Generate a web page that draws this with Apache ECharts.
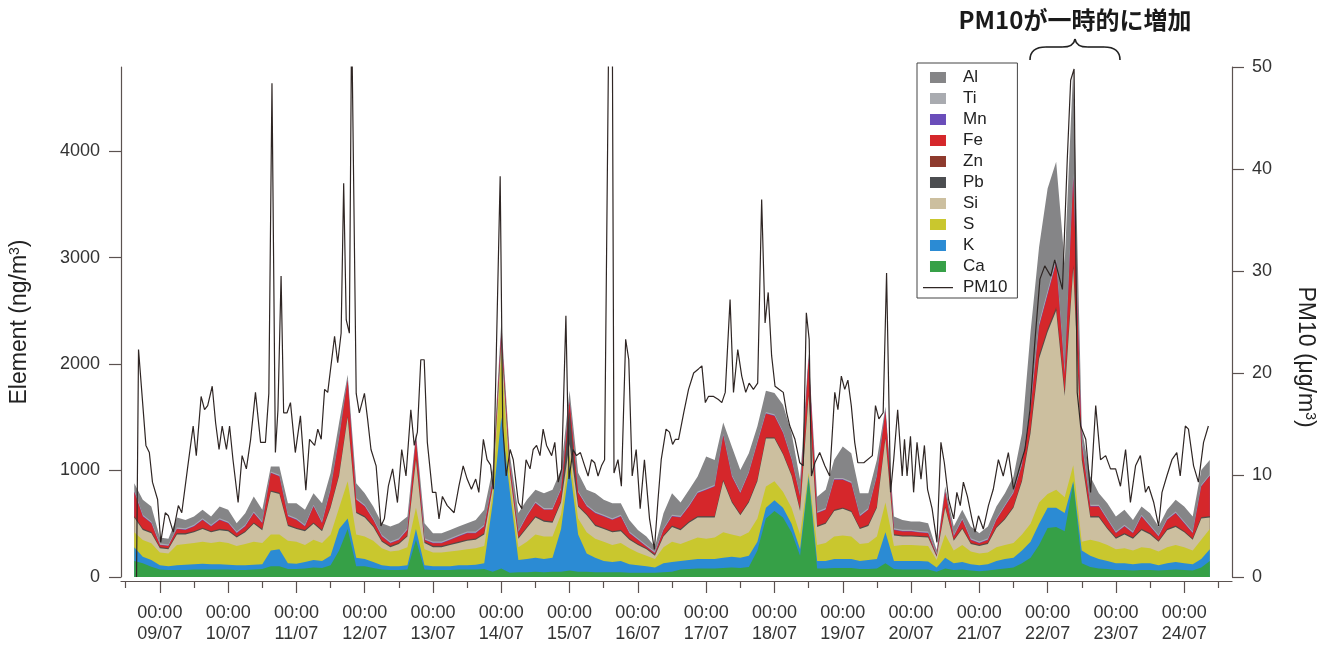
<!DOCTYPE html>
<html><head><meta charset="utf-8">
<script src="https://cdn.jsdelivr.net/npm/echarts@6/dist/echarts.min.js"></script>
<style>html,body{margin:0;padding:0;background:#fff}#c{width:1334px;height:646px}</style>
</head><body><div id="c"></div>
<script>
// x values: hours after 09/07 00:00
// 3-hourly samples from 08/07 15:00 to 24/07 09:00
const sampleHours = Array.from({length: 127}, (_, i) => -9 + 3 * i);

const dayHours = [0,24,48,72,96,120,144,168,192,216,240,264,288,312,336,360];
const halfDayHours = [-12,12,36,60,84,108,132,156,180,204,228,252,276,300,324,348,372];
const dayLabels = ['09/07','10/07','11/07','12/07','13/07','14/07','15/07','16/07','17/07','18/07','19/07','20/07','21/07','22/07','23/07','24/07'];
const leftTicks = [0,1000,2000,3000,4000];
const rightTicks = [0,10,20,30,40,50];

// element concentrations (ng/m3), bottom of stack first
const ca = [150,129,97,70,65,65,65,70,70,70,70,70,65,65,70,75,100,100,75,75,
 80,90,85,110,250,450,100,100,85,70,65,65,70,350,70,65,65,65,70,70,70,75,
 50,80,40,45,45,50,45,50,50,60,50,50,45,45,45,45,40,40,40,40,45,50,
 70,75,80,80,80,85,90,85,95,250,550,620,560,420,200,920,80,80,85,85,85,75,
 75,80,130,75,70,70,70,70,50,80,65,70,60,55,60,70,80,90,130,180,300,460,470,430,880,130,95,80,75,65,65,60,65,65,60,65,70,65,60,90,150];
const k = [130,62,63,40,35,45,50,50,55,50,50,45,45,45,45,45,150,160,55,50,
 60,70,65,90,200,100,80,70,55,40,35,35,40,100,40,35,35,35,40,40,45,55,
 650,1420,760,115,125,130,125,130,400,990,350,170,135,105,95,105,80,70,60,50,85,90,
 80,85,90,90,90,95,100,95,105,80,100,100,90,80,60,30,70,70,85,85,85,75,
 85,90,290,75,80,80,80,75,40,100,65,70,60,55,60,80,90,90,120,150,200,190,180,170,20,120,105,90,75,65,65,60,65,65,50,65,70,65,60,80,110];
const s = [140,157,157,120,120,190,195,200,205,200,210,205,180,200,215,200,150,140,210,205,
 160,190,170,200,200,350,220,210,200,160,140,150,170,200,150,130,130,140,140,150,155,160,
 80,600,100,120,160,220,210,200,140,100,150,200,180,180,160,170,150,120,100,80,150,190,
 160,180,200,190,200,240,210,200,220,220,200,180,150,150,140,30,150,170,210,220,210,160,
 160,210,280,140,150,150,145,145,70,220,120,160,120,110,110,130,130,140,150,170,200,130,170,150,150,80,150,160,150,130,140,130,150,140,130,150,160,150,130,180,190];
const si = [140,94,94,40,40,100,90,100,120,100,110,110,80,110,170,120,400,380,140,120,
 130,150,110,250,300,600,200,180,130,60,40,60,100,450,60,50,50,60,70,80,80,110,
 60,100,80,80,130,160,140,130,110,100,110,160,120,120,120,110,80,70,60,30,100,140,
 130,170,190,200,190,480,300,200,280,350,450,400,350,300,220,720,170,180,240,250,230,140,
 160,270,600,100,80,80,80,80,30,250,90,150,70,70,80,180,240,330,500,850,1350,1520,1680,950,1850,770,210,230,150,100,130,110,160,130,90,160,170,140,100,200,110];
const pb = [8,8,8,8,8,8,8,8,8,8,8,8,8,8,8,8,8,8,8,8,
 8,8,8,8,8,8,8,8,8,8,8,8,8,8,8,8,8,8,8,8,8,8,
 8,8,8,8,8,8,8,8,8,300,8,8,8,8,8,8,8,8,8,8,8,8,
 8,8,8,8,8,8,8,8,8,8,8,8,8,8,8,8,8,8,8,8,8,8,
 8,8,8,8,8,8,8,8,5,8,8,8,8,8,8,8,8,8,8,20,20,20,20,20,20,20,8,8,8,8,8,8,8,8,8,8,8,8,8,8,8];
const zn = [5,5,5,5,5,5,5,5,5,5,5,5,5,5,5,5,5,5,5,5,
 5,5,5,5,5,5,5,5,5,5,5,5,5,5,5,5,5,5,5,5,5,5,
 5,5,5,5,5,5,5,5,5,20,5,5,5,5,5,5,5,5,5,5,5,5,
 5,5,5,5,5,5,5,5,5,5,5,5,5,5,5,5,5,5,5,5,5,5,
 5,5,5,5,5,5,5,5,4,5,5,5,5,5,5,5,5,5,5,15,15,15,15,15,15,15,5,5,5,5,5,5,5,5,5,5,5,5,5,5,5];
const fe = [227,113,81,17,17,37,29,41,73,41,83,62,28,41,86,52,163,151,75,73,
 31,149,62,155,337,337,112,89,53,37,24,25,49,187,15,24,24,35,47,58,48,61,
 47,87,67,47,95,120,98,108,106,80,120,69,106,105,103,125,48,35,12,10,49,85,
 107,139,214,245,277,417,231,194,263,345,220,200,189,138,120,337,116,118,280,260,257,105,
 138,281,247,39,34,34,29,28,8,137,27,73,25,14,25,63,109,124,137,185,265,315,415,165,815,115,89,89,73,38,61,38,115,61,37,83,116,72,48,287,377];
const mn = [4,4,4,4,4,4,4,4,4,4,4,4,4,4,4,4,4,4,4,4,
 4,4,4,4,4,4,4,4,4,4,4,4,4,4,4,4,4,4,4,4,4,4,
 4,4,4,4,4,4,4,4,4,4,4,4,4,4,4,4,4,4,4,4,4,4,
 4,4,4,4,4,4,4,4,4,4,4,4,4,4,4,4,4,4,4,4,4,4,
 4,4,4,4,4,4,4,4,4,4,4,4,4,4,4,4,4,4,4,10,10,10,10,10,10,10,4,4,4,4,4,4,4,4,4,4,4,4,4,4,4];
const ti = [12,12,12,12,12,12,12,12,12,12,12,12,12,12,12,12,12,12,12,12,
 12,12,12,12,12,12,12,12,12,12,12,12,12,12,12,12,12,12,12,12,12,12,
 12,12,12,12,12,12,12,12,12,12,12,12,12,12,12,12,12,12,12,12,12,12,
 12,12,12,12,12,12,12,12,12,12,12,12,12,12,12,12,12,12,12,12,12,12,
 12,12,12,12,12,12,12,12,12,12,12,12,12,12,12,12,12,12,12,30,30,30,30,30,30,30,12,12,12,12,12,12,12,12,12,12,12,12,12,12,12];
const al = [64,141,141,54,54,94,78,78,79,78,110,110,78,109,141,110,46,78,109,141,
 141,109,172,142,134,34,139,109,110,109,141,141,110,34,141,78,78,78,78,78,109,141,
 104,84,74,164,141,110,140,172,172,84,171,141,172,141,141,109,109,78,79,46,141,203,
 124,141,141,298,234,104,266,201,171,141,200,200,250,235,144,34,138,172,172,297,267,203,
 140,141,24,110,93,78,88,78,31,34,78,79,110,78,110,110,109,141,284,690,710,960,910,1010,990,110,266,109,141,141,141,109,78,109,78,79,110,141,141,138,134];

// PM10 (ug/m3): [hours after 09/07 00:00, value]
const pm10Points = [[-8.2,0],[-7.5,22.3],[-4.9,12.9],[-3.7,12.2],[-2.6,9.3],[-0.8,7.6],[0.3,3.4],[1.9,6.3],[3.0,6.0],[4.7,4.4],[6.5,7.0],[7.7,6.3],[9.7,10.6],[11.7,14.8],[12.8,11.9],[14.5,17.7],[15.7,16.4],[16.8,16.8],[18.4,18.7],[19.6,15.1],[20.8,12.5],[21.9,14.8],[23.4,12.5],[24.5,14.8],[25.7,11.5],[27.5,7.3],[28.9,11.9],[30.4,10.6],[31.9,13.5],[33.6,18.1],[35.4,13.2],[37.1,13.2],[38.3,18],[39.4,48.4],[40.6,12.2],[41.5,16.4],[42.6,29.5],[43.5,16.1],[44.7,16.1],[45.9,17.1],[47.6,12.2],[49.4,15.8],[51.3,8.5],[52.6,13.5],[54.4,12.9],[55.5,14.5],[56.7,13.5],[57.9,18.4],[59,18.1],[61.4,23.6],[62.5,21],[63.7,23.9],[64.6,38.6],[65.5,25.2],[66.6,23.9],[67.4,55],[68.1,55],[69,18],[70.1,16.1],[71.9,18],[73,15.5],[74.2,12.5],[76,10.9],[77.7,5],[78.9,5.7],[80.3,8.9],[81.8,10.6],[83.5,7.3],[85,12.5],[86.5,9.9],[88.2,16.4],[89.4,12.9],[90.5,14.2],[91.7,21.3],[92.9,21.3],[94,13.2],[95.8,8.3],[97,8.3],[98.1,5.7],[99.3,7.9],[101,7],[103.4,6.3],[105.1,8.9],[106.6,10.9],[108,9.6],[109.5,8.6],[111,9.6],[112.1,8.3],[113.7,13.5],[115,11.5],[116.2,11],[117.2,8.6],[119.6,39.3],[120.5,14.8],[121.7,9.9],[123.1,12.5],[124.2,11.5],[126,7.3],[127.2,6.7],[128.7,11.5],[130.1,10.6],[131.2,12.5],[132.4,12.9],[133.6,11.9],[134.7,14.5],[135.9,12.9],[137.7,11.9],[138.8,13.2],[140,9.3],[141.2,10.6],[142.7,25.6],[143.8,9.6],[145.2,12.5],[146.4,11.9],[147.8,12.2],[149.3,10.9],[150.5,9.9],[151.7,11.5],[152.8,11.2],[154,9.9],[155.2,10.9],[156.3,11.5],[157.8,55],[159,55],[159.6,10.2],[161,11.5],[162.2,8.9],[163.7,23.3],[164.8,21.3],[166,9.9],[167.4,12.5],[168.8,6.7],[170.3,11.5],[172.1,5.7],[173.8,2.7],[175,7.3],[176.2,11.5],[177.9,14.5],[179.1,14.2],[180.2,13],[181.2,13.5],[182.3,13.5],[184.1,16.1],[185.8,18.4],[187.6,20],[189.3,20.4],[190.5,20.7],[191.7,17.1],[192.8,17.7],[194.6,17.7],[196.3,17.4],[197.5,17.1],[198.7,18.1],[200.4,27.2],[201.6,18.1],[203.1,22.3],[204.5,19.7],[205.9,18.1],[207.1,19],[208.6,18.4],[210.1,19],[211.5,37],[212.7,24.9],[213.8,27.9],[215,21.7],[216.2,18.7],[217.6,18.4],[219.1,18.1],[220.3,16.1],[221.4,14.8],[223.2,13.5],[224.9,11.2],[226.1,10.9],[227.2,25.9],[228.2,23.3],[229,9.9],[230.2,11.2],[231.9,12.2],[233.7,10.9],[235.4,9.9],[237.2,18.1],[238.3,16.4],[239.5,19.7],[240.7,18.4],[241.8,19.3],[243,16.8],[244.2,13.2],[245.3,11.2],[247.4,11.2],[250.4,11.9],[251.5,16.8],[252.7,15.5],[254.2,16.1],[255.4,29.8],[256.8,8.3],[257.9,11.5],[259.3,16.4],[260.9,9.9],[261.7,13.5],[262.6,9.9],[263.8,13.8],[264.9,8.3],[266.1,13.2],[267.5,9.6],[268.7,12.9],[269.8,8.6],[271.4,6.7],[273.1,3.4],[274.5,13.2],[275.7,11.2],[277.2,7.6],[279,5.7],[280.1,8.3],[281.3,7],[282.4,9.3],[283.8,7.9],[285.4,5.7],[286.5,4.4],[287.7,6],[289.4,4.7],[291.2,7],[292.9,8.6],[294.7,11.5],[296.4,9.9],[298.2,12.2],[300,8.6],[302.3,10.9],[304,12.5],[305.8,16.4],[307.5,23],[309.3,29.2],[311,30.5],[313.1,29.5],[314.5,31.1],[316,29.5],[317.2,28.2],[318.9,40.9],[320.1,48.7],[321.3,49.8],[322.4,18.1],[323.6,14.8],[325.4,13.5],[327.1,8.3],[328.9,16.8],[330.6,11.5],[332.4,11.9],[334.1,10.6],[335.9,10.6],[337.6,8.9],[339.4,12.5],[341.1,7.3],[342.9,10.9],[344.6,11.9],[346.4,8.3],[347.5,8.9],[349.3,7.3],[351,5],[352.2,8.3],[353.9,9.9],[355.7,11.5],[357.4,12.2],[358.6,9.9],[360.4,14.8],[361.5,14.5],[363.3,10.9],[365,9.3],[366.8,13.2],[368.5,14.8]];

const layers = [
  {name: 'Ca', data: ca, color: '#36a047'},
  {name: 'K',  data: k,  color: '#2b8bd4'},
  {name: 'S',  data: s,  color: '#c9c72e'},
  {name: 'Si', data: si, color: '#ccbf9f'},
  {name: 'Pb', data: pb, color: '#4b4d50'},
  {name: 'Zn', data: zn, color: '#8e3a2d'},
  {name: 'Fe', data: fe, color: '#d5272b'},
  {name: 'Mn', data: mn, color: '#6a4dba'},
  {name: 'Ti', data: ti, color: '#a9abb0'},
  {name: 'Al', data: al, color: '#858587'}
];
const legendOrder = ['Al','Ti','Mn','Fe','Zn','Pb','Si','S','K','Ca'];

const FONT = '"Liberation Sans", Arial, sans-serif';
const AX = '#5b5250';
const X_MIN = -13.66, X_MAX = 376.8;

const rectIcon = 'path://M7,0h16v11h-16z M0,0h0.01v0.01h-0.01z M30,11h0.01v0.01h-0.01z';
const lineIcon = 'path://M0,4.9h30v1.3h-30z M0,0h0.01v0.01h-0.01z M30,11h0.01v0.01h-0.01z';

// stacked table: running top of each layer (Ca at the bottom). Each layer is
// drawn as an area from 0 to its top, top-most layer first, so lower layers cover it.
const running = sampleHours.map(() => 0);
const stackedTops = layers.map(l => {
  const tops = l.data.map((v, i) => (running[i] += v));
  return {name: l.name, color: l.color, tops: tops.slice()};
});

const series = stackedTops.slice().reverse().map(l => ({
  name: l.name, type: 'line',
  xAxisIndex: 0, yAxisIndex: 0,
  data: sampleHours.map((h, i) => [h, l.tops[i]]),
  symbol: 'none', showSymbol: false,
  color: l.color,
  lineStyle: {width: 0, color: l.color},
  itemStyle: {color: l.color},
  areaStyle: {color: l.color, opacity: 1, origin: 'start'},
  emphasis: {disabled: true}, silent: true, animation: false
}));
series.push({
  name: 'PM10', type: 'line', xAxisIndex: 0, yAxisIndex: 1,
  data: pm10Points, symbol: 'none', showSymbol: false,
  color: '#2f2624',
  lineStyle: {color: '#2f2624', width: 1.2},
  itemStyle: {color: '#2f2624'},
  emphasis: {disabled: true}, silent: true, animation: false, z: 5
});

const braceStyle = {stroke: '#222', lineWidth: 1.6, fill: null};
const chart = echarts.init(document.getElementById('c'), null, {renderer: 'canvas'});
chart.setOption({
  backgroundColor: '#ffffff',
  animation: false,
  textStyle: {fontFamily: FONT},
  grid: {left: 117, right: 102, top: 67, bottom: 69, containLabel: false},
  legend: {
    left: 917, top: 63, orient: 'vertical',
    padding: [6, 10, 2, 6], itemGap: 4, itemWidth: 30, itemHeight: 11,
    borderColor: '#444', borderWidth: 1, selectedMode: false,
    itemStyle: {borderWidth: 0},
    textStyle: {fontSize: 17, color: '#222', lineHeight: 17, fontFamily: FONT, padding: [0, 0, 0, 5]},
    data: legendOrder.map(n => ({name: n, icon: rectIcon})).concat([{name: 'PM10', icon: lineIcon}])
  },
  xAxis: [
    {
      type: 'value', min: X_MIN, max: X_MAX, position: 'bottom', offset: 4,
      axisLine: {show: true, onZero: false, lineStyle: {color: AX, width: 1.2}},
      axisTick: {show: true, customValues: dayHours, length: 12, lineStyle: {color: AX, width: 1.2}},
      axisLabel: {
        show: true, customValues: dayHours, margin: 22, fontSize: 18, lineHeight: 21,
        color: '#333', fontFamily: FONT,
        formatter: v => '00:00\n' + dayLabels[Math.round(v / 24)]
      },
      splitLine: {show: false}
    },
    {
      type: 'value', min: X_MIN, max: X_MAX, position: 'bottom', offset: 4,
      axisLine: {show: false, onZero: false},
      axisTick: {show: true, customValues: halfDayHours, length: 7, lineStyle: {color: AX, width: 1.2}},
      axisLabel: {show: false},
      splitLine: {show: false}
    }
  ],
  yAxis: [
    {
      type: 'value', min: 0, max: 4790, position: 'left',
      axisLine: {show: true, onZero: false, lineStyle: {color: AX, width: 1.2}},
      axisTick: {show: true, customValues: leftTicks, length: 12, lineStyle: {color: AX, width: 1.2}},
      axisLabel: {customValues: leftTicks, margin: 21, fontSize: 18, color: '#333', fontFamily: FONT, formatter: v => String(v)},
      splitLine: {show: false},
      name: 'Element (ng/m{sup|3})', nameLocation: 'middle', nameGap: 90, nameRotate: 90,
      nameTextStyle: {fontSize: 23, color: '#222', fontFamily: FONT,
        rich: {sup: {fontSize: 14, verticalAlign: 'top', color: '#222', fontFamily: FONT, padding: [0, 0, 9, 0]}}}
    },
    {
      type: 'value', min: 0, max: 50, position: 'right',
      axisLine: {show: true, onZero: false, lineStyle: {color: AX, width: 1.2}},
      axisTick: {show: true, customValues: rightTicks, length: 12, lineStyle: {color: AX, width: 1.2}},
      axisLabel: {customValues: rightTicks, margin: 20, fontSize: 18, color: '#333', fontFamily: FONT, formatter: v => String(v)},
      splitLine: {show: false}
    }
  ],
  graphic: [
    {
      type: 'text', x: 1075, y: 20,
      style: {text: 'PM10が一時的に増加', align: 'center', verticalAlign: 'middle',
        font: 'bold 24px "Noto Sans CJK JP", sans-serif', fill: '#1a1a1a'}
    },
    {type: 'bezierCurve', silent: true, shape: {x1: 1030, y1: 60, x2: 1046, y2: 47, cpx1: 1030, cpy1: 51, cpx2: 1036, cpy2: 47}, style: braceStyle},
    {type: 'line', silent: true, shape: {x1: 1046, y1: 47, x2: 1062, y2: 47}, style: braceStyle},
    {type: 'bezierCurve', silent: true, shape: {x1: 1062, y1: 47, x2: 1075, y2: 39, cpx1: 1070, cpy1: 47, cpx2: 1074, cpy2: 45}, style: braceStyle},
    {type: 'bezierCurve', silent: true, shape: {x1: 1075, y1: 39, x2: 1088, y2: 47, cpx1: 1076, cpy1: 45, cpx2: 1080, cpy2: 47}, style: braceStyle},
    {type: 'line', silent: true, shape: {x1: 1088, y1: 47, x2: 1104, y2: 47}, style: braceStyle},
    {type: 'bezierCurve', silent: true, shape: {x1: 1104, y1: 47, x2: 1120, y2: 60, cpx1: 1114, cpy1: 47, cpx2: 1120, cpy2: 51}, style: braceStyle},
    {
      type: 'text', x: 1305, y: 357, rotation: -Math.PI / 2,
      style: {text: 'PM10 (μg/m{sup|3})', align: 'center', verticalAlign: 'middle',
        fontSize: 23, fontFamily: FONT, fill: '#222',
        rich: {sup: {fontSize: 14, verticalAlign: 'top', fill: '#222', fontFamily: FONT, padding: [0, 0, 9, 0]}}}
    }
  ],
  series: series
});
</script></body></html>
